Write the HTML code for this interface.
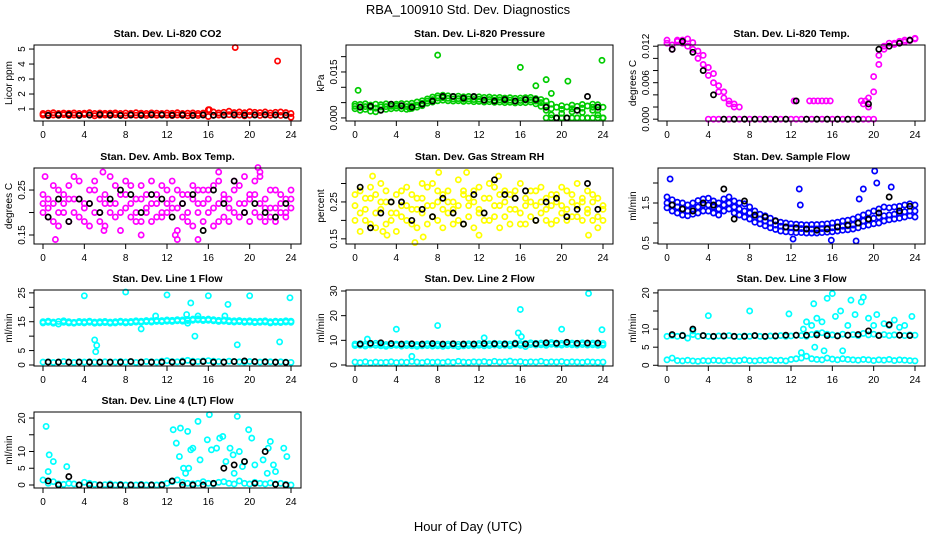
<!DOCTYPE html>
<html><head><meta charset="utf-8"><style>
html,body{margin:0;padding:0;background:#fff;}
svg{display:block;font-family:"Liberation Sans",Arial,sans-serif;}
</style></head><body>
<svg id="c" width="936" height="540" viewBox="0 0 936 540">
<text x="468" y="14" text-anchor="middle" font-size="13">RBA_100910  Std. Dev. Diagnostics</text>
<text x="468" y="531" text-anchor="middle" font-size="13">Hour of Day (UTC)</text>
</svg>
<script>
const XH=[0,0.5,1,1.5,2,2.5,3,3.5,4,4.5,5,5.5,6,6.5,7,7.5,8,8.5,9,9.5,10,10.5,11,11.5,12,12.5,13,13.5,14,14.5,15,15.5,16,16.5,17,17.5,18,18.5,19,19.5,20,20.5,21,21.5,22,22.5,23,23.5,24];
const XB=[0.5,1.5,2.5,3.5,4.5,5.5,6.5,7.5,8.5,9.5,10.5,11.5,12.5,13.5,14.5,15.5,16.5,17.5,18.5,19.5,20.5,21.5,22.5,23.5];
const XTICKS=[0,4,8,12,16,20,24];
// P1 CO2
const co2A=[0.6,0.55,0.6,0.58,0.62,0.56,0.6,0.57,0.63,0.6,0.55,0.58,0.6,0.57,0.62,0.59,0.56,0.6,0.58,0.61,0.57,0.6,0.58,0.62,0.59,0.56,0.6,0.58,0.55,0.6,0.57,0.61,0.5,0.58,0.6,0.57,0.62,0.58,0.6,0.55,0.59,0.62,0.57,0.6,0.58,0.61,0.57,0.6,0.45];
const co2B=[0.7,0.72,0.75,0.7,0.73,0.71,0.74,0.7,0.72,0.75,0.7,0.73,0.71,0.72,0.74,0.7,0.73,0.71,0.75,0.72,0.7,0.74,0.72,0.7,0.73,0.71,0.75,0.7,0.72,0.74,0.7,0.73,0.95,0.8,0.74,0.78,0.85,0.76,0.8,0.75,0.82,0.78,0.76,0.8,0.74,0.78,0.8,0.76,0.7];
const co2OX=[18.6,22.7,16.1],co2OY=[5.1,4.2,0.95];
const co2K=[0.58,0.6,0.62,0.58,0.6,0.63,0.6,0.57,0.6,0.58,0.62,0.6,0.59,0.6,0.57,0.6,0.58,0.6,0.62,0.6,0.6,0.62,0.6,0.58];
// P2 pressure (x1e-3 kPa)
const prA=[4.5,4.4,4.6,4.2,4.5,4.3,4.6,4.4,4.5,4.7,4.6,4.8,5.2,5.6,6.2,6.8,7.2,7.4,7.2,7.0,7.1,6.9,7.0,6.8,6.9,6.7,6.8,6.6,6.7,6.5,6.6,6.4,6.5,6.6,6.7,6.3,6.0,5.5,4.5,3.5,4.0,3.6,4.2,3.8,4.4,3.9,4.5,4.3,3.5];
const prB=[3.0,2.5,2.8,2.2,2.0,2.6,2.8,3.0,3.2,3.0,2.8,3.1,3.5,4.0,4.8,5.2,5.6,5.8,5.6,5.5,5.6,5.4,5.5,5.3,5.4,5.2,5.3,5.1,5.2,5.0,5.1,4.9,5.0,5.0,5.2,4.6,3.8,2.5,1.0,0,1.5,0,2.0,0,1.8,0,2.5,1.0,0];
const prC=[3.8,3.6,3.7,3.5,3.2,3.6,3.7,3.8,3.9,3.8,3.7,3.9,4.2,4.8,5.5,6.0,6.5,6.6,6.4,6.2,6.3,6.1,6.2,6.0,6.1,5.9,6.0,5.8,5.9,5.7,5.8,5.6,5.7,5.8,5.9,5.5,5.0,4.0,3.0,0,2.8,0,3.0,0,3.2,0,3.5,2.5,0];
const prD=[null,null,null,null,null,null,null,null,null,null,null,null,null,null,null,null,null,null,null,null,null,null,null,null,null,null,null,null,null,null,null,null,null,null,null,null,null,0,0,0,0,0,0,0,0,0,0,0,0];
const prOX=[8,16,23.9,0.3,5.3,18.5,20.6,17.5,19.0],prOY=[20.5,16.5,18.8,9.0,3.0,12.5,12.0,10.5,8.0];
const prK=[3.5,3.8,2.5,4.5,4.0,3.5,4.5,5.5,7.0,7.0,6.5,7.0,5.8,5.5,6.0,5.5,6.0,6.0,3.5,0,0,2.5,7.0,3.5];
// P3 temp (x1e-3)
const tpA=[12.5,11.5,12.8,13,13.2,12.6,11.2,10.5,8.5,7.5,5.5,4.5,3.0,2.5,2.0,null,null,null,null,null,null,null,null,null,null,null,null,null,null,null,null,null,null,null,null,null,null,null,2.5,3.5,7.0,10.5,12,12.5,12.5,12.8,13,13,13.2];
const tpB=[13,12.2,13,12.5,12,11.5,10,9,7.2,6,4.5,3.5,2.5,2.0,null,null,null,null,null,null,null,null,null,null,null,null,null,null,null,null,null,null,null,null,null,null,null,null,null,2.0,4.5,9.0,11.5,12,12.3,12.5,12.7,12.9,13.3];
const tpZ=[null,null,null,null,null,null,null,null,0,0,0,0,0,0,0,0,0,0,0,0,0,0,0,0,0,0,0,0,0,0,0,0,0,0,0,0,0,0,0,0,0,null,null,null,null,null,null,null,null];
const tpOX=[12.3,13.8,14.2,14.6,15.0,15.4,15.8,18.8,19.2],tpOY=[3,3,3,3,3,3,3,3,3];
const tpK=[11.5,12.8,11,8,4,0,0,0,0,0,0,0,3,0,0,0,0,0,0,2.5,11.5,12,12.5,13];
// P4 ambient box temp
const abA=[0.22,0.19,0.26,0.2,0.24,0.18,0.23,0.27,0.21,0.17,0.25,0.2,0.22,0.28,0.19,0.24,0.21,0.26,0.18,0.23,0.2,0.27,0.22,0.19,0.25,0.21,0.16,0.24,0.2,0.26,0.22,0.18,0.25,0.21,0.27,0.19,0.23,0.2,0.26,0.22,0.18,0.24,0.28,0.21,0.19,0.25,0.22,0.2,0.23];
const abB=[0.24,0.21,0.18,0.25,0.2,0.23,0.28,0.19,0.22,0.25,0.2,0.23,0.17,0.22,0.26,0.2,0.24,0.19,0.23,0.26,0.21,0.18,0.24,0.2,0.22,0.27,0.21,0.19,0.24,0.17,0.25,0.22,0.2,0.26,0.18,0.23,0.21,0.25,0.19,0.28,0.24,0.2,0.22,0.18,0.25,0.21,0.24,0.19,0.21];
const abC=[0.2,0.23,0.22,0.17,0.22,0.26,0.2,0.23,0.18,0.22,0.27,0.18,0.24,0.2,0.22,0.16,0.27,0.22,0.2,0.18,0.24,0.22,0.19,0.26,0.2,0.23,0.25,0.22,0.18,0.23,0.2,0.25,0.23,0.17,0.22,0.24,0.18,0.27,0.22,0.2,0.23,0.27,0.19,0.23,0.21,0.18,0.2,0.23,0.25];
const abOX=[0.2,1.2,5.8,5.9,9.5,13.0,15.0,17.0,20.8,21.0,12.8],abOY=[0.28,0.14,0.29,0.16,0.15,0.14,0.14,0.29,0.3,0.29,0.15];
const abK=[0.19,0.23,0.18,0.23,0.22,0.2,0.23,0.25,0.24,0.2,0.24,0.23,0.19,0.22,0.24,0.16,0.25,0.22,0.27,0.2,0.22,0.2,0.19,0.22];
// P5 RH
const rhA=[0.24,0.28,0.2,0.26,0.22,0.3,0.19,0.25,0.27,0.21,0.29,0.23,0.18,0.26,0.24,0.3,0.2,0.27,0.22,0.25,0.31,0.19,0.24,0.28,0.22,0.26,0.2,0.29,0.24,0.21,0.27,0.23,0.3,0.19,0.25,0.28,0.22,0.26,0.24,0.2,0.29,0.23,0.27,0.21,0.25,0.28,0.2,0.26,0.23];
const rhB=[0.2,0.22,0.26,0.19,0.27,0.23,0.25,0.2,0.22,0.28,0.24,0.19,0.26,0.22,0.29,0.21,0.25,0.23,0.28,0.19,0.24,0.27,0.21,0.25,0.29,0.22,0.26,0.21,0.27,0.25,0.19,0.28,0.22,0.26,0.21,0.24,0.29,0.2,0.27,0.25,0.22,0.28,0.21,0.24,0.26,0.22,0.27,0.21,0.24];
const rhC=[0.27,0.17,0.23,0.29,0.18,0.25,0.28,0.22,0.17,0.24,0.2,0.27,0.23,0.3,0.19,0.24,0.28,0.18,0.25,0.23,0.2,0.28,0.26,0.18,0.23,0.2,0.3,0.24,0.18,0.28,0.23,0.26,0.19,0.24,0.28,0.2,0.25,0.23,0.19,0.27,0.24,0.2,0.25,0.3,0.2,0.23,0.25,0.18,0.2];
const rhOX=[1.7,5.8,8.1,10.8,6.6,3.1,2.7,12.0,13.9,22.6],rhOY=[0.32,0.14,0.33,0.33,0.155,0.16,0.17,0.16,0.32,0.16];
const rhK=[0.29,0.18,0.22,0.25,0.25,0.2,0.23,0.21,0.26,0.22,0.19,0.27,0.22,0.31,0.27,0.26,0.28,0.2,0.25,0.26,0.21,0.23,0.3,0.23];
// P6 sample flow
const sfA=[1.5,1.45,1.4,1.35,1.3,1.35,1.4,1.45,1.45,1.4,1.35,1.45,1.5,1.4,1.35,1.3,1.25,1.15,1.1,1.05,1.0,0.95,0.92,0.9,0.88,0.87,0.86,0.85,0.85,0.85,0.86,0.87,0.88,0.9,0.92,0.93,0.95,1.0,1.05,1.08,1.12,1.15,1.18,1.2,1.22,1.25,1.28,1.3,1.3];
const sfB=[1.65,1.58,1.52,1.5,1.45,1.5,1.56,1.6,1.62,1.55,1.5,1.6,1.65,1.55,1.5,1.48,1.4,1.3,1.22,1.18,1.12,1.06,1.02,1.0,0.98,0.97,0.96,0.95,0.96,0.96,0.97,0.98,1.0,1.02,1.05,1.07,1.1,1.15,1.2,1.25,1.3,1.35,1.4,1.38,1.4,1.42,1.45,1.48,1.45];
const sfC=[1.38,1.3,1.25,1.2,1.18,1.22,1.25,1.3,1.3,1.25,1.2,1.3,1.35,1.25,1.2,1.15,1.1,1.02,0.98,0.93,0.88,0.84,0.8,0.78,0.77,0.76,0.76,0.75,0.75,0.75,0.76,0.77,0.78,0.8,0.82,0.83,0.85,0.88,0.92,0.95,0.98,1.0,1.05,1.08,1.1,1.12,1.15,1.18,1.15];
const sfOX=[0.3,20.1,20.3,12.8,12.9,18.3,15.9,18.6,21.7,12.2,19.0],sfOY=[2.1,2.3,2.0,1.85,1.45,0.55,0.57,1.6,1.9,0.6,1.85];
const sfK=[1.45,1.35,1.3,1.5,1.45,1.85,1.1,1.55,1.2,1.15,1.05,0.9,0.88,0.85,0.82,0.85,0.9,0.95,1.0,1.1,1.25,1.65,1.3,1.42];
// P7 line 1
const l1A=[15,15.2,14.9,15.1,15.3,15,14.8,15.1,15,15.2,14.9,15,15.1,14.9,15,15.2,15,15.1,15.3,15.2,15.4,15.3,15.5,15.4,15.6,15.5,15.7,15.6,15.8,15.9,16,15.8,15.9,15.7,15.5,15.6,15.4,15.3,15.4,15.2,15.3,15.1,15.2,15.3,15,15.2,15.1,15.3,15.2];
const l1B=[14.6,14.8,14.5,14.2,14.8,14.6,14.5,14.7,14.6,14.8,14.5,14.6,14.7,14.5,14.6,14.8,14.6,14.7,14.9,14.8,15,14.9,15.1,15,15.2,15.1,15.3,15.2,15.4,15.5,15.6,15.4,15.5,15.3,15.1,15.2,15,14.9,15,14.8,14.9,14.7,14.8,14.9,14.6,14.8,14.7,14.9,14.8];
const l1C=[1,1.1,0.9,1,1.2,1,0.9,1.1,1,1.1,1,0.9,1.1,1,1,1.2,1,1.1,0.9,1,1.2,1.1,1,1.3,1.5,1.2,1.1,1.4,1.6,1.3,1.2,1.4,1.5,1.3,1.2,1.1,1.3,1.2,1.1,1,1.2,1.1,1,1.2,1.1,1,1.1,1,0.9];
const l1OX=[4,8,12,16,20,23.9,5.0,5.1,5.2,9.5,10.9,14.3,13.9,14.0,14.7,18.8,17.9,17.6,15.0,22.9],l1OY=[24,25.3,24.3,24,24,23.3,8.7,4.6,6.8,12.5,17,21.5,17.5,14.5,10,7,21,17,17,8];
const l1K=[1,1,1,1,1,1,1,1,1.2,1,1,1,1,1.1,1,1.2,1,1,1.2,1.4,1.2,1.1,1,0.9];
// P8 line 2
const l2A=[8.5,8.7,8.4,8.6,8.8,8.5,8.3,8.6,8.5,8.4,8.6,8.5,8.3,8.5,8.6,8.4,8.5,8.3,8.5,8.6,8.4,8.5,8.6,8.5,8.7,8.5,8.6,8.8,8.6,8.7,8.5,8.9,8.7,8.8,9,8.8,8.9,8.7,9.1,8.9,8.8,9,8.9,8.8,9,8.8,8.9,8.7,8.8];
const l2B=[7.9,8,7.7,8.1,8,7.8,7.6,7.9,8,7.7,7.9,7.8,7.6,7.8,7.9,7.7,7.8,7.6,7.8,7.9,7.5,7.8,7.9,7.8,8,7.8,7.9,8.1,7.9,8,7.8,8.2,8,7.5,8.3,8.1,8.2,8,8.4,8.2,8.1,8.3,8.2,8.1,8.3,8.1,8.2,8,8.1];
const l2C=[1.2,1,1.3,0.9,1.2,1,1.1,1.3,1,1.2,1.1,1.4,1.2,1,1.3,1.1,1.2,1,1.3,1.1,1.5,1.2,1.1,1.3,1.2,1.4,1.1,1.5,1.2,1.3,1.6,1.2,1.4,1.1,1.3,1.2,1.5,1.1,1.3,1.2,1.4,1.1,1.3,1.2,1.1,1.3,1.2,1.1,1.2];
const l2OX=[4.0,8.0,16.0,15.8,16.1,20.0,22.6,23.9,1.2,12.5,5.5],l2OY=[14.5,16,22.5,13,11.5,14.5,29,14.3,10.5,11,3.5];
const l2K=[8.5,8.8,9,8.7,8.5,8.6,8.5,8.7,8.5,8.6,8.5,8.5,8.7,8.6,8.5,8.7,8.5,8.6,9,8.8,9.2,8.8,8.9,8.9];
// P9 line 3
const l3A=[8,8.2,8,8.3,7.5,8.5,8,8.2,8,7.9,8.1,8,8.2,8,7.9,8.1,8,8.2,8,7.9,8.1,8,8.2,8,8.1,8.3,8.2,8,8.5,8.8,9,8.6,8.4,8.2,8.6,8.3,8.5,8.2,8.8,8.4,8.6,8.3,8.5,8.2,8.4,8.3,8.2,8.4,8.3];
const l3C=[1.5,2,1.3,1.2,1.4,1.2,1.1,1.3,1.2,1.4,1.3,1.2,1.4,1.2,1.3,1.5,1.3,1.2,1.4,1.3,1.5,1.3,1.4,1.2,1.6,1.8,2,2.5,1.8,1.6,1.5,2,1.7,1.5,1.8,1.6,1.5,1.4,1.6,1.5,1.3,1.5,1.4,1.6,1.3,1.5,1.4,1.3,1.2];
const l3OX=[4,8,11.8,13.2,13.5,14.2,14.5,14,15,15.5,16,16.3,16.8,17.5,17.8,18.2,18.8,19,19.5,20,20.3,21,21.5,22,22.5,23,23.7,13,14.3,15.2,17,2.5],l3OY=[13.7,15,14.2,10,12,17,13,11,12,18.5,19.8,13.5,15,11,18,14,17.5,18.8,13,11,14,11.5,11,12.5,10.5,11,13.5,3.5,5,4,4,9.5];
const l3K=[8.5,8.2,10,8.2,8,8.1,8,8,8.2,8,8.1,8.3,8.3,8.3,8.4,8.2,8.1,8.3,8.5,9.5,8.2,11.2,8.3,8.2];
// P10 line 4
const l4A=[1.5,0.5,1,0.3,0.2,0.5,0.3,0,0.8,0.5,0.2,0,0.1,0.3,0,0.2,0,0.1,0,0.2,0,0.1,0,0.2,0.5,1,1.5,0.8,0.5,0.3,0.5,1,0.5,0.3,0.8,1,0.5,0.3,1.2,0.5,0.3,0.8,0.5,0.3,0.6,0.3,0.5,0.2,0];
const l4OX=[0.3,0.5,0.6,1.0,2.3,12.6,12.9,13.3,13.6,14,13.8,14.3,14.5,15,15.2,15.9,16.1,16.3,16.8,17.1,17.4,17.7,18.1,18.4,18.8,19,19.5,19.9,20.2,20.5,21.3,21.8,22,22.3,22.5,23.3,23.6,13.2,14.1,18.5,19.3,21.7],l4OY=[17.5,4,9,7,5.5,16.5,12.5,17,5,16,3.5,10.5,11,19,7.5,13.5,21,10.5,11,14,14.5,7,11,9,20.5,10,7,16.5,14,6,7.5,11,13,6,4,11,8.5,8.5,5,3.5,5.5,3.5];
const l4K=[1.2,0,2.5,0,0,0,0,0,0,0,0,0,1.2,0,0,0,0.5,5,6,7,0.5,10,0.2,0];

const NS='http://www.w3.org/2000/svg';
const svg=document.getElementById('c');
function mk(tag,attrs,parent){const e=document.createElementNS(NS,tag);for(const k in attrs)e.setAttribute(k,attrs[k]);(parent||svg).appendChild(e);return e;}
const COLS=[34,346,658],ROWS=[45,168,290,412],W=267,H=76;
const panels=[
 {t:'Stan. Dev. Li-820 CO2',yl:'Licor ppm',c:0,r:0,y0:0.2,y1:5.27,ticks:[1,2,3,4,5],labs:['1','2','3','4','5'],col:'#ff0000',ser:[co2A,co2B],ox:co2OX,oy:co2OY,k:co2K},
 {t:'Stan. Dev. Li-820 Pressure',yl:'kPa',c:1,r:0,y0:-1,y1:23.8,ticks:[0,5,10,15,20],labs:['0.000','','','0.015',''],col:'#00cc00',ser:[prA,prB,prC,prD],ox:prOX,oy:prOY,k:prK},
 {t:'Stan. Dev. Li-820 Temp.',yl:'degrees C',c:2,r:0,y0:-0.3,y1:12.2,ticks:[0,2,4,6,8,10,12],labs:['0.000','','','0.006','','','0.012'],col:'#ff00ff',ser:[tpA,tpB,tpZ],ox:tpOX,oy:tpOY,k:tpK},
 {t:'Stan. Dev. Amb. Box Temp.',yl:'degrees C',c:0,r:1,y0:0.13,y1:0.299,ticks:[0.15,0.2,0.25],labs:['0.15','','0.25'],col:'#ff00ff',ser:[abA,abB,abC],ox:abOX,oy:abOY,k:abK},
 {t:'Stan. Dev. Gas Stream RH',yl:'percent',c:1,r:1,y0:0.136,y1:0.342,ticks:[0.15,0.2,0.25,0.3],labs:['0.15','','0.25',''],col:'#ffff00',ser:[rhA,rhB,rhC],ox:rhOX,oy:rhOY,k:rhK},
 {t:'Stan. Dev. Sample Flow',yl:'ml/min',c:2,r:1,y0:0.475,y1:2.375,ticks:[0.5,1,1.5,2],labs:['0.5','','1.5',''],col:'#0000ff',ser:[sfA,sfB,sfC],ox:sfOX,oy:sfOY,k:sfK},
 {t:'Stan. Dev. Line 1 Flow',yl:'ml/min',c:0,r:2,y0:-0.35,y1:26,ticks:[0,5,10,15,20,25],labs:['0','5','','15','','25'],col:'#00ffff',ser:[l1A,l1B,l1C],ox:l1OX,oy:l1OY,k:l1K},
 {t:'Stan. Dev. Line 2 Flow',yl:'ml/min',c:1,r:2,y0:-0.4,y1:30.4,ticks:[0,10,20,30],labs:['0','10','20','30'],col:'#00ffff',ser:[l2A,l2B,l2C],ox:l2OX,oy:l2OY,k:l2K},
 {t:'Stan. Dev. Line 3 Flow',yl:'ml/min',c:2,r:2,y0:-0.2,y1:20.8,ticks:[0,5,10,15,20],labs:['0','5','10','','20'],col:'#00ffff',ser:[l3A,l3C],ox:l3OX,oy:l3OY,k:l3K},
 {t:'Stan. Dev. Line 4 (LT) Flow',yl:'ml/min',c:0,r:3,y0:-0.9,y1:21.8,ticks:[0,5,10,15,20],labs:['0','5','10','','20'],col:'#00ffff',ser:[l4A],ox:l4OX,oy:l4OY,k:l4K}
];
panels.forEach((p,i)=>{
 const L=COLS[p.c],T=ROWS[p.r];
 const g=mk('g',{});
 
 
 const sx=h=>L+9+h*(W-19)/24;
 const sy=v=>T+H-(v-p.y0)/(p.y1-p.y0)*H;
 const tt=mk('text',{x:L+W/2,y:T-8,'text-anchor':'middle','font-size':'10.5','font-weight':'bold'},g);
 tt.textContent=p.t;
 
 
 const yl=mk('text',{x:0,y:0,'text-anchor':'middle','font-size':'10',transform:`translate(${L-22},${T+H/2}) rotate(-90)`},g);
 yl.textContent=p.yl;
 
 
 const dg=mk('g',{fill:'none','stroke-width':'1.7'},g);
 const dot=(x,y,c,nm)=>{if(y===null||y===undefined)return;const e=mk('circle',{cx:sx(x),cy:sy(y),r:2.6,stroke:c},dg);
  
  };
 p.ser.forEach(s=>s.forEach((v,j)=>dot(XH[j],v,p.col,'data-point')));
 p.ox.forEach((x,j)=>dot(x,p.oy[j],p.col,'outlier-point'));
 p.k.forEach((v,j)=>dot(XB[j],v,'#000','hourly-point'));
 const box=mk('rect',{x:L,y:T,width:W,height:H,fill:'none',stroke:'#000','stroke-width':'1'},g);
 
 
 XTICKS.forEach(h=>{
  mk('line',{x1:sx(h),x2:sx(h),y1:T+H,y2:T+H+5,stroke:'#000'},g);
  const tx=mk('text',{x:sx(h),y:T+H+17,'text-anchor':'middle','font-size':'10'},g);
  tx.textContent=h;
  
  
 });
 p.ticks.forEach((v,j)=>{
  const y=sy(v);
  mk('line',{x1:L-5,x2:L,y1:y,y2:y,stroke:'#000'},g);
  if(p.labs[j]){const ty=mk('text',{x:0,y:0,'text-anchor':'middle','font-size':'10',transform:`translate(${L-9},${y}) rotate(-90)`},g);
  ty.textContent=p.labs[j];
  
  }
 });
});
</script>
</body></html>
